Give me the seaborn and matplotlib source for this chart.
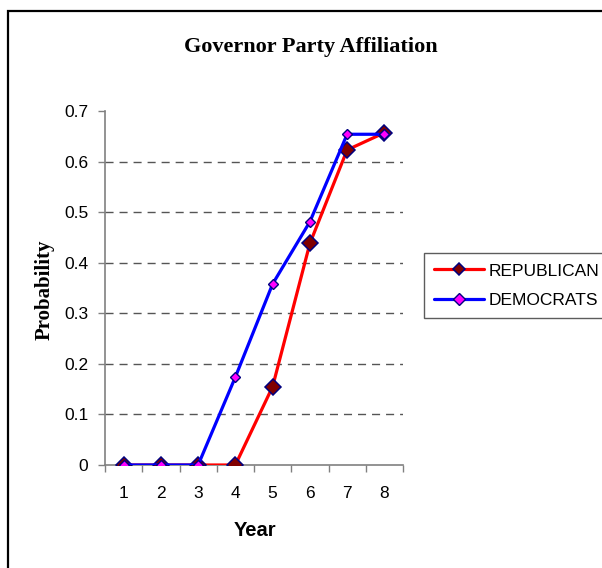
import matplotlib
matplotlib.use("Agg")
import matplotlib.pyplot as plt
from matplotlib.patches import Rectangle
import seaborn as sns

# Series values per year
years = [1, 2, 3, 4, 5, 6, 7, 8]
republican = [0.0, 0.0, 0.0, 0.0, 0.155, 0.438, 0.623, 0.657]
democrats = [0.0, 0.0, 0.0, 0.174, 0.358, 0.481, 0.654, 0.654]
y_ticks = [0.0, 0.1, 0.2, 0.3, 0.4, 0.5, 0.6, 0.7]
y_tick_labels = ["0", "0.1", "0.2", "0.3", "0.4", "0.5", "0.6", "0.7"]
series_names = ["REPUBLICAN", "DEMOCRATS"]

sns.set_theme(style="white")
plt.rcParams["font.family"] = ["Liberation Sans", "DejaVu Sans"]
plt.rcParams["text.color"] = "black"
plt.rcParams["axes.labelcolor"] = "black"
plt.rcParams["xtick.color"] = "black"
plt.rcParams["ytick.color"] = "black"

W, H = 602, 568
DPI = 100
fig = plt.figure(figsize=(W / DPI, H / DPI), dpi=DPI)
fig.patch.set_facecolor("white")

# plot area in pixel coordinates
left_px, right_px, top_px, bottom_px = 105, 403, 111, 465
ax = fig.add_axes([left_px / W, 1 - bottom_px / H,
                   (right_px - left_px) / W, (bottom_px - top_px) / H])
ax.set_facecolor("white")

# dashed horizontal guides
ax.hlines(y_ticks[1:-1], 0.5, 8.5, colors="#555555", linewidth=1.0,
          linestyles=(0, (5.8, 4.3)), zorder=1)

sns.lineplot(x=years, y=republican, ax=ax, color="#FF0000", linewidth=2.3,
             marker="D", markersize=8.6, markerfacecolor="#800000",
             markeredgecolor="#000080", markeredgewidth=1.1,
             label=series_names[0], zorder=3)
sns.lineplot(x=years, y=democrats, ax=ax, color="#0000FF", linewidth=2.3,
             marker="D", markersize=5.2, markerfacecolor="#FF00FF",
             markeredgecolor="#000080", markeredgewidth=1.0,
             label=series_names[1], zorder=4)

ax.set_xlim(0.5, 8.5)
ax.set_ylim(0, 0.7)
ax.set_xticks(years)
ax.set_xticklabels([str(y) for y in years])
ax.set_xticks([x + 0.5 for x in range(0, 9)], minor=True)
ax.set_yticks(y_ticks)
ax.set_yticklabels(y_tick_labels)

ax.tick_params(axis="x", which="major", length=0, pad=15, labelsize=12.5,
               labelcolor="black")
ax.tick_params(axis="x", which="minor", length=5, width=1.0, color="#808080",
               direction="out", bottom=True)
ax.tick_params(axis="y", which="major", length=5, width=1.0, color="#808080",
               direction="out", pad=7, labelsize=12.5, labelcolor="black",
               left=True)

for side in ("top", "right"):
    ax.spines[side].set_visible(False)
for side in ("left", "bottom"):
    ax.spines[side].set_color("#808080")
    ax.spines[side].set_linewidth(1.2)

ax.set_xlabel("")
ax.set_ylabel("")

# texts
fig.text(311 / W, 1 - 47 / H, "Governor Party Affiliation", ha="center",
         va="center", fontsize=16, fontweight="bold", color="black",
         family=["Liberation Serif", "DejaVu Serif"])
fig.text(45 / W, 1 - 290 / H, "Probability", ha="center", va="center",
         rotation=90, fontsize=15, fontweight="bold", color="black",
         family=["Liberation Serif", "DejaVu Serif"])
fig.text(255 / W, 1 - 531 / H, "Year", ha="center", va="center",
         fontsize=14.5, fontweight="bold", color="black")

# legend
ax.get_legend().remove()
handles, labels = ax.get_legend_handles_labels()
leg = fig.legend(handles, labels, loc="upper left",
                 bbox_to_anchor=(424 / W, 1 - 253 / H), frameon=True,
                 fancybox=False, shadow=False, fontsize=12.5,
                 handlelength=2.85, handletextpad=0.3, borderpad=0.6,
                 labelspacing=0.8, borderaxespad=0)
leg.get_frame().set_edgecolor("#333333")
leg.get_frame().set_linewidth(1.0)
for t in leg.get_texts():
    t.set_color("black")
for h in leg.legend_handles:
    h.set_markersize(5.8)

# outer frame
fig.patches.append(Rectangle((8 / W, -0.05), 1.1, 1 - 11 / H + 0.05,
                             transform=fig.transFigure, fill=False,
                             edgecolor="black", linewidth=1.6))

fig.savefig("out.png", dpi=DPI)
